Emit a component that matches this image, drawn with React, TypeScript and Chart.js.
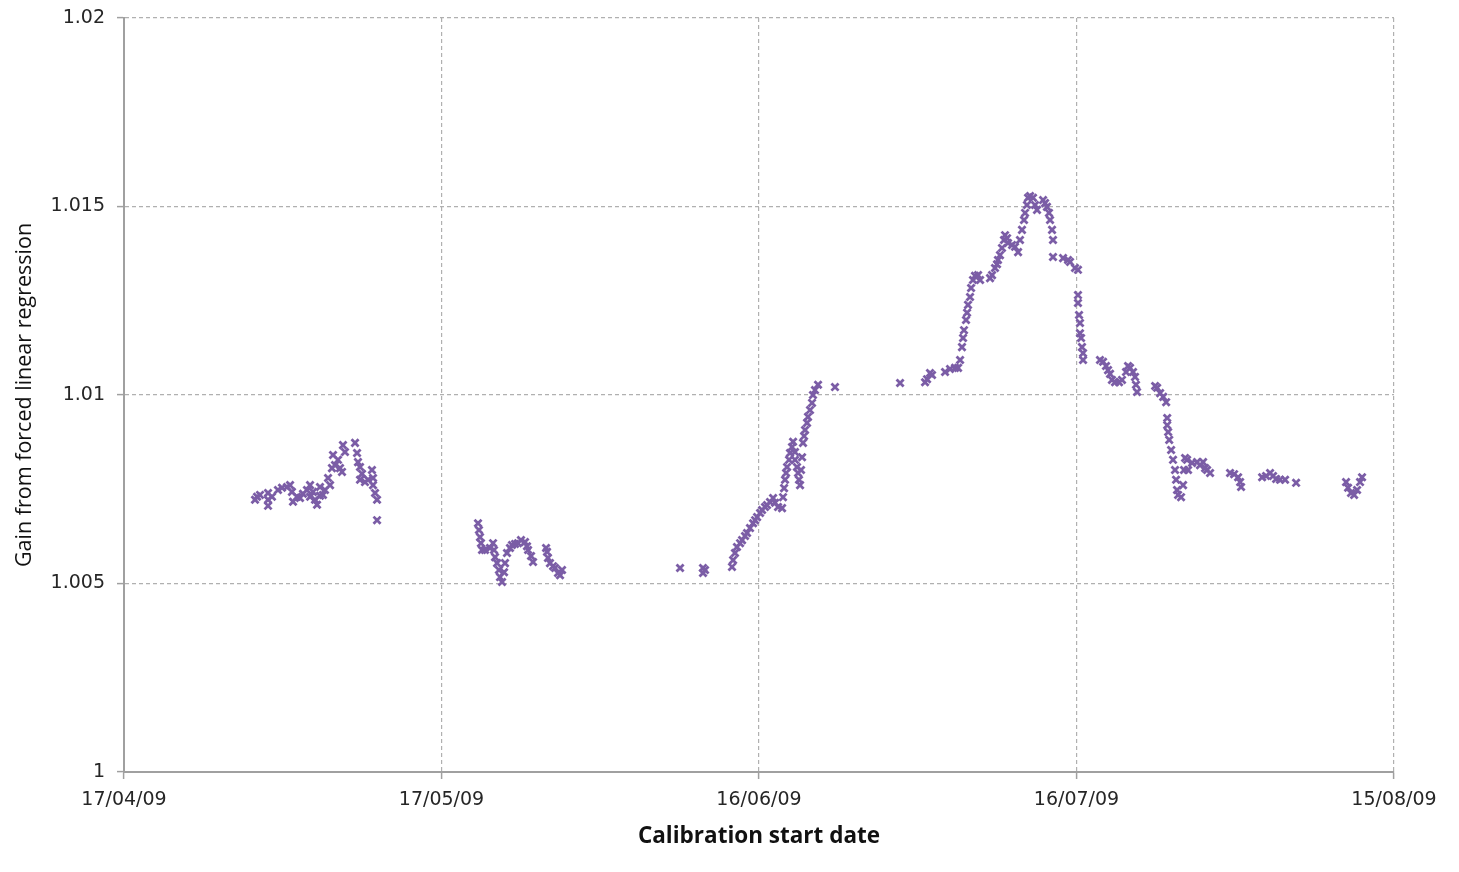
import React, { useEffect, useRef } from "react";
import { Chart, registerables } from "chart.js";

Chart.register(...registerables);

// Day offsets from 17/04/09 (calibration start date)
const dayOffsets: number[] = [
  // late April – early May
  12.57, 12.38, 12.85, 13.61, 13.61, 13.61, 13.98, 14.55, 14.93, 15.40, 15.69, 15.87, 15.97, 16.35, 16.63,
  16.91, 17.29, 17.58, 17.58, 17.86, 18.05, 18.24, 18.52, 18.52, 18.80, 18.99, 19.28, 19.47, 19.65, 19.75,
  19.94, 20.22, 20.41, 20.60, 20.69, 20.88, 21.83, 22.02, 22.11, 22.30, 22.30, 22.49, 22.77, 23.06, 23.43,
  23.53, 23.53, 23.72, 23.91, 23.91,
  // late May
  33.45, 33.54, 33.64, 33.73, 33.83, 34.11, 34.58, 34.87, 34.96, 35.06, 35.25, 35.43, 35.53, 35.72, 35.91,
  36.00, 36.19, 36.47, 36.66, 36.95, 37.23, 37.51, 37.89, 38.08, 38.18, 38.46, 38.65, 39.88, 39.97, 40.06,
  40.25, 40.54, 40.73, 41.01, 41.20, 41.39,
  // June
  52.54, 54.71, 54.71, 54.90, 57.45, 57.55, 57.73, 57.92, 58.21, 58.40, 58.68, 58.87, 59.15, 59.44, 59.63,
  59.82, 60.10, 60.29, 60.57, 60.76, 61.04, 61.33, 61.52, 61.80, 62.18, 62.27, 62.37, 62.46, 62.56, 62.65,
  62.84, 62.93, 63.12, 63.22, 63.40, 63.40, 63.59, 63.69, 63.78, 63.88, 63.97, 64.07, 64.16, 64.26, 64.35,
  64.54, 64.63, 64.82, 65.01, 65.10, 65.29, 65.58, 67.18,
  // late June – mid July
  73.33, 75.69, 75.88, 76.16, 76.35, 77.58, 78.05, 78.52, 78.81, 79.00, 79.18, 79.28, 79.37, 79.56, 79.66,
  79.75, 79.94, 80.04, 80.22, 80.41, 80.70, 80.89, 81.83, 82.02, 82.30, 82.49, 82.58, 82.77, 82.96, 83.15,
  83.25, 83.44, 83.53, 83.91, 84.19, 84.48, 84.66, 84.85, 85.04, 85.14, 85.32, 85.42, 85.61, 85.89, 86.08,
  86.27, 86.84, 87.03, 87.21, 87.40, 87.50, 87.69, 87.78, 87.78, 88.73, 89.20, 89.39, 89.86, 90.14, 90.14,
  90.14, 90.24, 90.33, 90.33, 90.43, 90.52, 90.62, 90.62,
  // late July
  92.22, 92.51, 92.79, 92.98, 93.17, 93.35, 93.64, 94.02, 94.30, 94.68, 94.87, 95.06, 95.34, 95.53, 95.62,
  95.72, 97.43, 97.62, 97.90, 98.19, 98.47, 98.57, 98.57, 98.66, 98.76, 98.94, 99.12, 99.31, 99.41, 99.50,
  99.60, 99.88, 100.07, 100.16, 100.26, 100.45, 100.54, 100.92, 101.39, 101.67, 101.96, 102.15, 102.34, 102.62,
  // August
  104.51, 104.89, 105.27, 105.46, 105.55, 107.54, 107.91, 108.29, 108.57, 108.86, 109.23, 109.71, 110.75,
  115.47, 115.66, 115.94, 116.23, 116.51, 116.79, 116.98,
];

const gains: number[] = [
  1.0073, 1.00722, 1.00735, 1.0074, 1.00722, 1.00706, 1.0073, 1.00748, 1.00754, 1.00756, 1.00761, 1.00743, 1.00717, 1.0073, 1.00727,
  1.00738, 1.00748, 1.00761, 1.0073, 1.00743, 1.00722, 1.00709, 1.00756, 1.00733, 1.00735, 1.00748, 1.0078, 1.00761, 1.00806, 1.00841,
  1.00814, 1.00828, 1.00806, 1.00796, 1.00867, 1.00849, 1.00873, 1.00846, 1.00822, 1.00809, 1.00775, 1.00791, 1.00769, 1.00775, 1.00801,
  1.0078, 1.00761, 1.0074, 1.00722, 1.00668,
  1.0066, 1.00642, 1.00623, 1.00607, 1.00589, 1.00589, 1.00594, 1.00607, 1.00589, 1.0057, 1.00554, 1.00536, 1.00517, 1.00504, 1.0053,
  1.00554, 1.00581, 1.00594, 1.00602, 1.00605, 1.00607, 1.00615, 1.0061, 1.00599, 1.00589, 1.00573, 1.00557, 1.00594, 1.00584, 1.00568,
  1.00554, 1.00546, 1.00541, 1.00528, 1.00522, 1.00536,
  1.00541, 1.00541, 1.00528, 1.00536, 1.00544, 1.00562, 1.00581, 1.00597, 1.00607, 1.00615, 1.00626, 1.00634, 1.00647, 1.0066, 1.00668,
  1.00676, 1.00687, 1.00695, 1.00703, 1.00708, 1.00716, 1.00727, 1.00714, 1.00703, 1.007, 1.00729, 1.00753, 1.00775, 1.00793, 1.00809,
  1.00828, 1.00846, 1.00862, 1.00876, 1.00849, 1.00828, 1.00809, 1.00793, 1.00775, 1.00761, 1.00801, 1.00835, 1.00873, 1.00891, 1.00907,
  1.00926, 1.00942, 1.0096, 1.00979, 1.01, 1.01013, 1.01027, 1.01021,
  1.01032, 1.01034, 1.01042, 1.01058, 1.01053, 1.01061, 1.01069, 1.01072, 1.01072, 1.01093, 1.01127, 1.01151, 1.01172, 1.01199, 1.01218,
  1.01239, 1.0126, 1.01284, 1.01305, 1.01316, 1.01318, 1.01305, 1.0131, 1.01318, 1.01337, 1.01347, 1.01358, 1.01371, 1.0139, 1.01411,
  1.01424, 1.01416, 1.01403, 1.01398, 1.01393, 1.01379, 1.01411, 1.01438, 1.01464, 1.01483, 1.01504, 1.01523, 1.01528, 1.01523, 1.01504,
  1.01491, 1.01517, 1.01509, 1.01499, 1.01483, 1.01464, 1.01438, 1.01411, 1.01366, 1.01363, 1.01358, 1.01353, 1.01337, 1.01332, 1.01265,
  1.01244, 1.01212, 1.01191, 1.01164, 1.01151, 1.01127, 1.01111, 1.01093,
  1.01093, 1.01088, 1.01077, 1.01066, 1.01056, 1.0104, 1.01034, 1.01034, 1.0104, 1.01061, 1.01077, 1.01072, 1.01061, 1.01048, 1.01027,
  1.01008, 1.01024, 1.01019, 1.01005, 1.00995, 1.00981, 1.00939, 1.0092, 1.00902, 1.00881, 1.00854, 1.00828, 1.00801, 1.00775, 1.00748,
  1.00735, 1.00729, 1.00761, 1.00801, 1.00833, 1.00828, 1.00801, 1.0082, 1.00822, 1.00814, 1.00822, 1.00806, 1.00801, 1.00793,
  1.00793, 1.0079, 1.00782, 1.00769, 1.00756, 1.00782, 1.00785, 1.00793, 1.00785, 1.00777, 1.00775, 1.00775, 1.00767,
  1.00769, 1.00754, 1.0074, 1.00735, 1.00748, 1.00769, 1.00782,
];

const xTickLabels: string[] = ["17/04/09", "17/05/09", "16/06/09", "16/07/09", "15/08/09"];
const yTickLabels: string[] = ["1", "1.005", "1.01", "1.015", "1.02"];

const TICK_FONT = "'DejaVu Sans', Verdana, sans-serif";
const TITLE_FONT = "'Open Sans', Lato, sans-serif";

export default function App() {
  const canvasRef = useRef<HTMLCanvasElement | null>(null);

  useEffect(() => {
    if (!canvasRef.current) return;
    const points = dayOffsets.map((d, i) => ({ x: d, y: gains[i] }));
    const gridCommon = {
      color: "#b0b0b0",
      lineWidth: 1.2,
      drawTicks: true,
      tickLength: 7,
      tickColor: "#a0a0a0",
      tickWidth: 1.5,
      tickBorderDash: [],
    };
    const chart = new Chart(canvasRef.current, {
      type: "scatter",
      data: {
        datasets: [
          {
            label: "Gain",
            data: points,
            pointStyle: "crossRot",
            pointRadius: 5,
            pointBorderWidth: 2.8,
            borderColor: "#7B5DA6",
            backgroundColor: "#7B5DA6",
          },
        ],
      },
      options: {
        responsive: false,
        animation: false,
        layout: { padding: { left: 0, right: 57, top: 10, bottom: 0 } },
        plugins: {
          legend: { display: false },
          tooltip: { enabled: false },
        },
        scales: {
          x: {
            type: "linear",
            min: 0,
            max: 120,
            afterFit: (scale: any) => {
              scale.height = 92;
              scale.paddingLeft = 0;
              scale.paddingRight = 0;
            },
            afterBuildTicks: (scale: any) => {
              scale.ticks = xTickLabels.map((_, i) => ({ value: i * 30 }));
            },
            ticks: {
              callback: (_v: any, i: number) => xTickLabels[i],
              font: { family: TICK_FONT, size: 19 },
              color: "#262626",
              padding: 10,
              maxRotation: 0,
            },
            grid: gridCommon,
            border: { display: true, color: "#a0a0a0", width: 2, dash: [4, 3] },
            title: {
              display: true,
              text: "Calibration start date",
              font: { family: TITLE_FONT, size: 22.5, weight: "bold" },
              color: "#111111",
              padding: { top: 0, bottom: 14 },
            },
          },
          y: {
            type: "linear",
            min: 1,
            max: 1.02,
            afterFit: (scale: any) => {
              scale.width = 116;
              scale.paddingTop = 0;
              scale.paddingBottom = 0;
            },
            afterBuildTicks: (scale: any) => {
              scale.ticks = yTickLabels.map((_, i) => ({ value: 1 + i * 0.005 }));
            },
            ticks: {
              callback: (_v: any, i: number) => yTickLabels[i],
              font: { family: TICK_FONT, size: 19 },
              color: "#262626",
              padding: 12,
            },
            grid: gridCommon,
            border: { display: true, color: "#a0a0a0", width: 2, dash: [4, 3] },
            title: {
              display: true,
              text: "Gain from forced linear regression",
              font: { family: TITLE_FONT, size: 21.5 },
              color: "#111111",
              padding: { top: 4, bottom: 0 },
            },
          },
        },
      },
    } as any);
    return () => chart.destroy();
  }, []);

  return (
    <div style={{ width: 1443, height: 856 }}>
      <canvas ref={canvasRef} width={1443} height={856} style={{ display: "block" }} />
    </div>
  );
}
